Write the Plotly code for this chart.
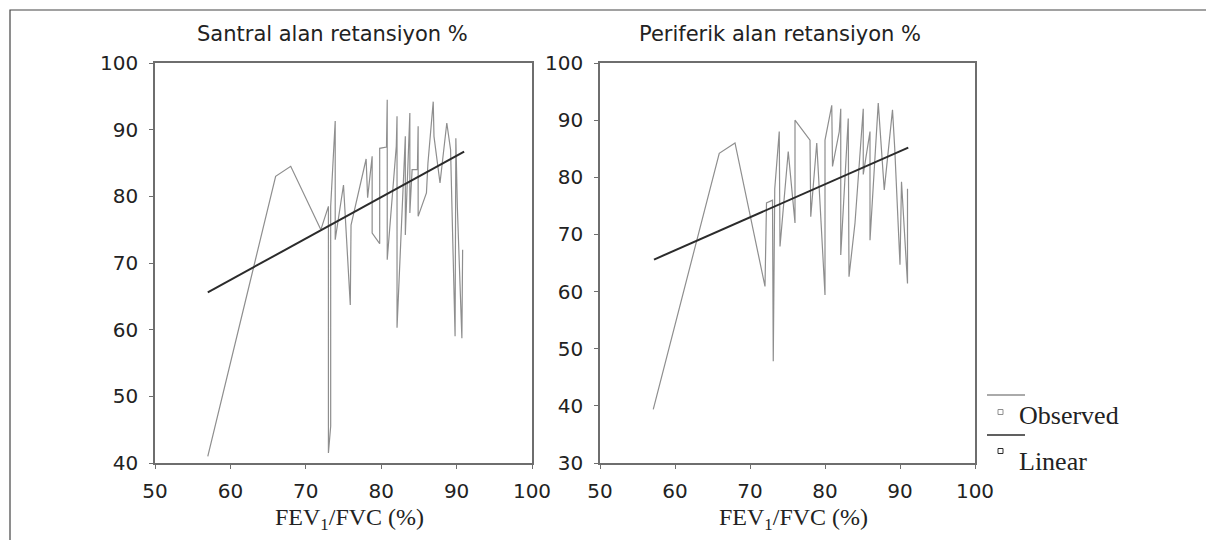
import plotly.graph_objects as go

# the page puts the figure 8px in from the corner, so work in window pixels and shift
OFF = 8
W, H = 1214 - OFF, 540 - OFF

# ---- data ----
santral_x = [57, 66, 68, 72, 73, 73, 73.3, 73.3, 73.9, 73.9, 75, 75.9, 76, 78, 78.2, 78.8, 78.8,
             79.8, 79.8, 80.7, 80.8, 80.8, 82, 82.1, 82.1, 83.2, 83.2, 83.8, 83.8, 84.1, 84.8,
             84.9, 84.9, 86, 86.2, 86.9, 87, 87.8, 88.7, 89.2, 89.8, 89.9, 90.1, 90.7, 90.8]
santral_y = [41, 83, 84.5, 75, 78.5, 41.5, 45.5, 78.5, 91.3, 73.5, 81.7, 63.7, 75.7, 85.6, 79.8, 86, 74.5,
             72.9, 87.2, 87.4, 94.5, 70.5, 87.5, 92, 60.3, 89, 74.2, 92.5, 77.5, 84, 84,
             90.5, 77, 80.5, 85, 94.2, 89, 82, 91, 87, 59, 88.7, 78.4, 58.7, 72]
santral_fit_x = [57, 91]
santral_fit_y = [65.6, 86.7]

periferik_x = [57.1, 65.9, 68, 72, 72.2, 73, 73.1, 73.3, 73.9, 74, 75.1, 76, 76, 78, 78.1, 78.9,
               80, 80, 80.9, 81, 81.9, 82.1, 82.1, 83.1, 83.2, 84, 85.1, 85.1, 86, 86, 87.1,
               87.9, 89, 89.3, 90, 90.2, 91, 91]
periferik_y = [39.4, 84.2, 86, 60.9, 75.5, 76, 47.8, 78, 88, 67.9, 84.5, 72, 90, 86.5, 73.1, 86,
               59.4, 86.5, 92.6, 81.9, 88, 92, 66.4, 90.3, 62.6, 72, 92, 80.5, 88, 69, 93,
               77.8, 91.8, 85, 64.7, 79.2, 61.4, 78]
periferik_fit_x = [57.2, 91.1]
periferik_fit_y = [65.6, 85.2]

x_ticks = [50, 60, 70, 80, 90, 100]
santral_yticks = [40, 50, 60, 70, 80, 90, 100]
periferik_yticks = [30, 40, 50, 60, 70, 80, 90, 100]

OBS = "#8e8e8e"
LIN = "#2b2b2b"
SERIF = "Liberation Serif"
SANS = "DejaVu Sans"


def px(x):
    return (x - OFF) / W


def py(y):
    return 1 - (y - OFF) / H


fig = go.Figure()
fig.add_trace(go.Scatter(x=santral_x, y=santral_y, mode="lines", line=dict(color=OBS, width=1.2),
                         xaxis="x", yaxis="y", showlegend=False))
fig.add_trace(go.Scatter(x=santral_fit_x, y=santral_fit_y, mode="lines", line=dict(color=LIN, width=2),
                         xaxis="x", yaxis="y", showlegend=False))
fig.add_trace(go.Scatter(x=periferik_x, y=periferik_y, mode="lines", line=dict(color=OBS, width=1.2),
                         xaxis="x2", yaxis="y2", showlegend=False))
fig.add_trace(go.Scatter(x=periferik_fit_x, y=periferik_fit_y, mode="lines", line=dict(color=LIN, width=2),
                         xaxis="x2", yaxis="y2", showlegend=False))

axis_common = dict(showline=True, linecolor="#6e6e6e", linewidth=1.5, mirror=True, showgrid=False,
                   zeroline=False, ticks="outside", ticklen=4, tickcolor="#6e6e6e", automargin=False,
                   tickfont=dict(family=SANS, size=20, color="#222"))

fig.update_layout(
    width=W, height=H, margin=dict(l=0, r=0, t=0, b=0, pad=0), autosize=False,
    paper_bgcolor="white", plot_bgcolor="white",
    xaxis=dict(domain=[px(155), px(532)], range=[50, 100], tickvals=x_ticks, anchor="y",
               ticklabelstandoff=5, **axis_common),
    yaxis=dict(domain=[py(463), py(63)], range=[40, 100], tickvals=santral_yticks, anchor="x",
               ticklabelstandoff=7, **axis_common),
    xaxis2=dict(domain=[px(600), px(975)], range=[50, 100], tickvals=x_ticks, anchor="y2",
                ticklabelstandoff=5, **axis_common),
    yaxis2=dict(domain=[py(463), py(63)], range=[30, 100], tickvals=periferik_yticks, anchor="x2",
                ticklabelstandoff=7, **axis_common),
)

# panel titles and axis titles
for cx, title in [(332, "Santral alan retansiyon %"), (780, "Periferik alan retansiyon %")]:
    fig.add_annotation(x=px(cx), y=py(34), xref="paper", yref="paper", text=title, showarrow=False,
                       font=dict(family=SANS, size=21, color="#222"), xanchor="center", yanchor="middle")
for cx in [349, 793]:
    fig.add_annotation(x=px(cx), y=py(519), xref="paper", yref="paper",
                       text="FEV<sub>1</sub>/FVC (%)", showarrow=False,
                       font=dict(family=SERIF, size=24, color="#222"), xanchor="center", yanchor="middle")

# outer frame
fig.add_shape(type="rect", xref="paper", yref="paper", x0=px(10), x1=px(1212), y0=py(560), y1=py(10),
              line=dict(color="#444", width=1.2))

# hand-drawn legend like the source
for ly, my, ty, col, label in [(395, 412, 415, OBS, "Observed"), (435, 451, 461, LIN, "Linear")]:
    fig.add_shape(type="line", xref="paper", yref="paper", x0=px(987), x1=px(1025), y0=py(ly), y1=py(ly),
                  line=dict(color=col, width=1.5))
    fig.add_shape(type="rect", xref="paper", yref="paper", x0=px(998), x1=px(1003), y0=py(my + 2.5),
                  y1=py(my - 2.5), line=dict(color=col, width=1))
    fig.add_annotation(x=px(1017), y=py(ty), xref="paper", yref="paper", text=label, showarrow=False,
                       font=dict(family=SERIF, size=26, color="#222"), xanchor="left", yanchor="middle")

fig.write_html("out.html")
